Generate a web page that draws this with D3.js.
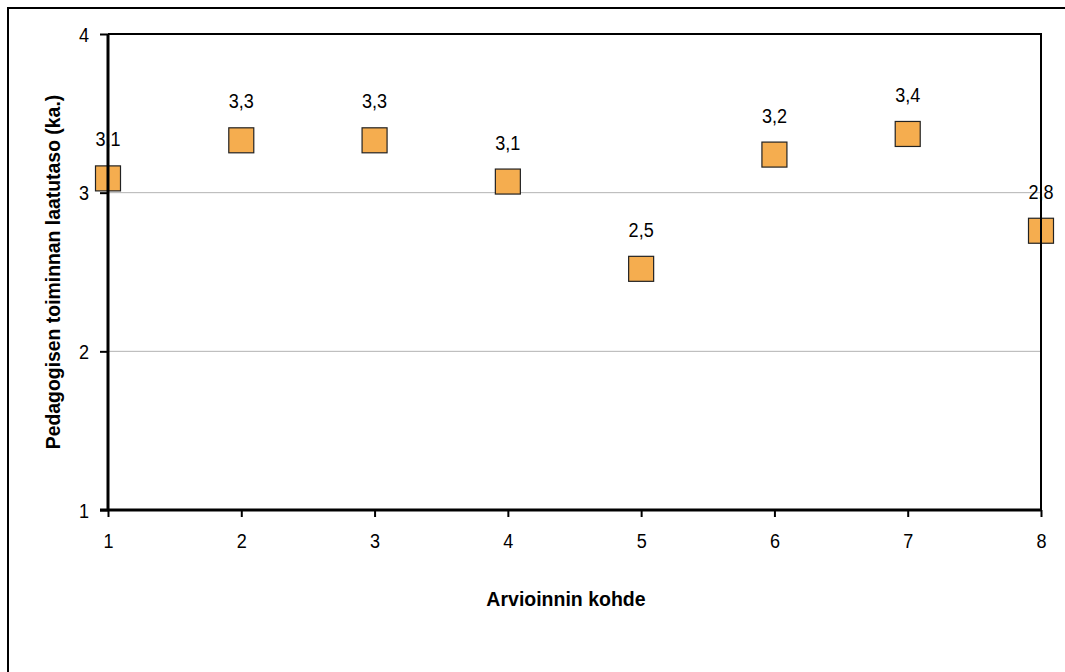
<!DOCTYPE html>
<html><head><meta charset="utf-8">
<script src="https://cdn.jsdelivr.net/npm/d3@7"></script>
<style>body{margin:0;background:#fff}</style>
</head><body>
<svg id="c" width="1065" height="672"></svg>
<script>
const categories = [1,2,3,4,5,6,7,8];
const values = [3.09,3.33,3.33,3.07,2.52,3.24,3.37,2.76];
const labels = ["3,1","3,3","3,3","3,1","2,5","3,2","3,4","2,8"];
const yTicks = [1,2,3,4];
const xTitle = "Arvioinnin kohde";
const yTitle = "Pedagogisen toiminnan laatutaso (ka.)";

const font = "'Liberation Sans', Arial, sans-serif";
const svg = d3.select("#c");
const L=108,R=1041,T=34,B=510;
const x = d3.scaleLinear().domain([1,8]).range([L,R]);
const y = d3.scaleLinear().domain([1,4]).range([B,T]);
const fs = 21, sx = 0.86;

// outer border
svg.append("rect").attr("x",8).attr("y",8).attr("width",1065).attr("height",680)
  .attr("fill","none").attr("stroke","#000").attr("stroke-width",2);

// gridlines
svg.append("g").selectAll("line").data([2,3]).join("line")
  .attr("x1",L).attr("x2",R).attr("y1",d=>y(d)).attr("y2",d=>y(d))
  .attr("stroke","#b3b3b3").attr("stroke-width",1);

// markers
const sz=25;
svg.append("g").selectAll("rect").data(values).join("rect")
  .attr("x",(d,i)=>x(categories[i])-sz/2).attr("y",d=>y(d)-sz/2)
  .attr("width",sz).attr("height",sz)
  .attr("fill","#F5AD4F").attr("stroke","#222").attr("stroke-width",1.2);

// data labels
svg.append("g").selectAll("text").data(values).join("text")
  .attr("transform",(d,i)=>`translate(${x(categories[i])},${y(d)-32}) scale(${sx},1)`)
  .attr("text-anchor","middle").attr("font-family",font).attr("font-size",fs)
  .text((d,i)=>labels[i]);

// plot border top & right
svg.append("path").attr("d",`M${L},${T}H${R}V${B}`).attr("fill","none").attr("stroke","#000").attr("stroke-width",2);

// axes
const yAxis = d3.axisLeft(y).tickValues(yTicks).tickSize(8).tickPadding(0).tickFormat(d3.format("d"));
const gy = svg.append("g").attr("transform",`translate(${L},0)`).call(yAxis);
gy.select(".domain").attr("stroke-width",3).attr("d",`M0,${T}V${B}`);
gy.selectAll(".tick line").attr("stroke-width",2);
gy.selectAll(".tick text").attr("x",null).attr("dy",null)
  .attr("transform",`translate(-19,7) scale(${sx},1)`)
  .attr("font-family",font).attr("font-size",fs).attr("fill","#000");

const xAxis = d3.axisBottom(x).tickValues(categories).tickSize(7).tickPadding(0).tickFormat(d3.format("d"));
const gx = svg.append("g").attr("transform",`translate(0,${B})`).call(xAxis);
gx.select(".domain").attr("stroke-width",3).attr("d",`M${L-8},0H${R}`);
gx.selectAll(".tick line").attr("stroke-width",2);
gx.selectAll(".tick text").attr("y",null).attr("dy",null)
  .attr("transform",`translate(0,38) scale(${sx},1)`)
  .attr("font-family",font).attr("font-size",fs).attr("fill","#000");

// titles
svg.append("text").attr("x",566).attr("y",606).attr("text-anchor","middle")
  .attr("font-family",font).attr("font-weight","bold").attr("font-size",19.5).text(xTitle);
svg.append("text").attr("transform",`translate(60,272) rotate(-90)`).attr("text-anchor","middle")
  .attr("font-family",font).attr("font-weight","bold").attr("font-size",19.4).text(yTitle);
</script>
</body></html>
